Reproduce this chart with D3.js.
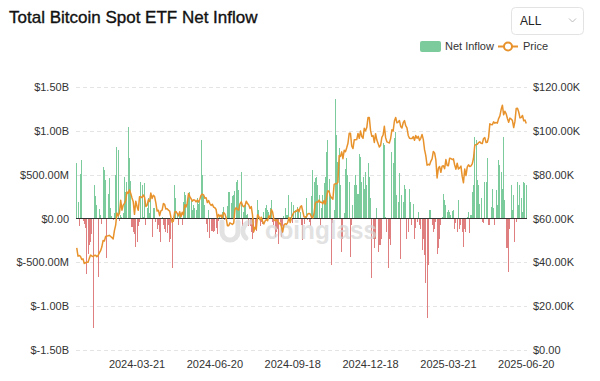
<!DOCTYPE html>
<html>
<head>
<meta charset="utf-8">
<script src="https://cdn.jsdelivr.net/npm/d3@7"></script>
<style>
  html, body { margin: 0; padding: 0; background: #fff; }
  svg { display: block; font-family: "Liberation Sans", Arial, Helvetica, sans-serif; }
</style>
</head>
<body>
<svg id="chart" width="600" height="381"></svg>
<script>
// ---------- DATA ----------
const dates = [
  "2024-01-11","2024-01-12","2024-01-16","2024-01-17","2024-01-18","2024-01-19","2024-01-22","2024-01-23","2024-01-24","2024-01-25","2024-01-26","2024-01-29","2024-01-30","2024-01-31",
  "2024-02-01","2024-02-02","2024-02-05","2024-02-06","2024-02-07","2024-02-08","2024-02-09","2024-02-12","2024-02-13","2024-02-14","2024-02-15","2024-02-16","2024-02-20","2024-02-21","2024-02-22","2024-02-23","2024-02-26","2024-02-27","2024-02-28","2024-02-29",
  "2024-03-01","2024-03-04","2024-03-05","2024-03-06","2024-03-07","2024-03-08","2024-03-11","2024-03-12","2024-03-13","2024-03-14","2024-03-15","2024-03-18","2024-03-19","2024-03-20","2024-03-21","2024-03-22","2024-03-25","2024-03-26","2024-03-27","2024-03-28",
  "2024-04-01","2024-04-02","2024-04-03","2024-04-04","2024-04-05","2024-04-08","2024-04-09","2024-04-10","2024-04-11","2024-04-12","2024-04-15","2024-04-16","2024-04-17","2024-04-18","2024-04-19","2024-04-22","2024-04-23","2024-04-24","2024-04-25","2024-04-26","2024-04-29","2024-04-30",
  "2024-05-01","2024-05-02","2024-05-03","2024-05-06","2024-05-07","2024-05-08","2024-05-09","2024-05-10","2024-05-13","2024-05-14","2024-05-15","2024-05-16","2024-05-17","2024-05-20","2024-05-21","2024-05-22","2024-05-23","2024-05-24","2024-05-28","2024-05-29","2024-05-30","2024-05-31",
  "2024-06-03","2024-06-04","2024-06-05","2024-06-06","2024-06-07","2024-06-10","2024-06-11","2024-06-12","2024-06-13","2024-06-14","2024-06-17","2024-06-18","2024-06-20","2024-06-21","2024-06-24","2024-06-25","2024-06-26","2024-06-27","2024-06-28",
  "2024-07-01","2024-07-02","2024-07-03","2024-07-05","2024-07-08","2024-07-09","2024-07-10","2024-07-11","2024-07-12","2024-07-15","2024-07-16","2024-07-17","2024-07-18","2024-07-19","2024-07-22","2024-07-23","2024-07-24","2024-07-25","2024-07-26","2024-07-29","2024-07-30","2024-07-31",
  "2024-08-01","2024-08-02","2024-08-05","2024-08-06","2024-08-07","2024-08-08","2024-08-09","2024-08-12","2024-08-13","2024-08-14","2024-08-15","2024-08-16","2024-08-19","2024-08-20","2024-08-21","2024-08-22","2024-08-23","2024-08-26","2024-08-27","2024-08-28","2024-08-29","2024-08-30",
  "2024-09-03","2024-09-04","2024-09-05","2024-09-06","2024-09-09","2024-09-10","2024-09-11","2024-09-12","2024-09-13","2024-09-16","2024-09-17","2024-09-18","2024-09-19","2024-09-20","2024-09-23","2024-09-24","2024-09-25","2024-09-26","2024-09-27","2024-09-30",
  "2024-10-01","2024-10-02","2024-10-03","2024-10-04","2024-10-07","2024-10-08","2024-10-09","2024-10-10","2024-10-11","2024-10-15","2024-10-16","2024-10-17","2024-10-18","2024-10-21","2024-10-22","2024-10-23","2024-10-24","2024-10-25","2024-10-28","2024-10-29","2024-10-30","2024-10-31",
  "2024-11-01","2024-11-04","2024-11-05","2024-11-06","2024-11-07","2024-11-08","2024-11-11","2024-11-12","2024-11-13","2024-11-14","2024-11-15","2024-11-18","2024-11-19","2024-11-20","2024-11-21","2024-11-22","2024-11-25","2024-11-26","2024-11-27",
  "2024-12-02","2024-12-03","2024-12-04","2024-12-05","2024-12-06","2024-12-09","2024-12-10","2024-12-11","2024-12-12","2024-12-13","2024-12-16","2024-12-17","2024-12-18","2024-12-19","2024-12-20","2024-12-23","2024-12-24","2024-12-26","2024-12-27","2024-12-30","2024-12-31",
  "2025-01-02","2025-01-03","2025-01-06","2025-01-07","2025-01-08","2025-01-10","2025-01-13","2025-01-14","2025-01-15","2025-01-16","2025-01-17","2025-01-21","2025-01-22","2025-01-23","2025-01-24","2025-01-27","2025-01-28","2025-01-29","2025-01-30","2025-01-31",
  "2025-02-03","2025-02-04","2025-02-05","2025-02-06","2025-02-07","2025-02-10","2025-02-11","2025-02-12","2025-02-13","2025-02-14","2025-02-18","2025-02-19","2025-02-20","2025-02-21","2025-02-24","2025-02-25","2025-02-26","2025-02-27","2025-02-28",
  "2025-03-03","2025-03-04","2025-03-05","2025-03-06","2025-03-07","2025-03-10","2025-03-11","2025-03-12","2025-03-13","2025-03-14","2025-03-17","2025-03-18","2025-03-19","2025-03-20","2025-03-21","2025-03-24","2025-03-25","2025-03-26","2025-03-27","2025-03-28","2025-03-31",
  "2025-04-01","2025-04-02","2025-04-03","2025-04-04","2025-04-07","2025-04-08","2025-04-09","2025-04-10","2025-04-11","2025-04-14","2025-04-15","2025-04-16","2025-04-17","2025-04-21","2025-04-22","2025-04-23","2025-04-24","2025-04-25","2025-04-28","2025-04-29","2025-04-30",
  "2025-05-01","2025-05-02","2025-05-05","2025-05-06","2025-05-07","2025-05-08","2025-05-09","2025-05-12","2025-05-13","2025-05-14","2025-05-15","2025-05-16","2025-05-19","2025-05-20","2025-05-21","2025-05-22","2025-05-23","2025-05-27","2025-05-28","2025-05-29","2025-05-30",
  "2025-06-02","2025-06-03","2025-06-04","2025-06-05","2025-06-06","2025-06-09","2025-06-10","2025-06-11","2025-06-12","2025-06-13","2025-06-16","2025-06-17","2025-06-18","2025-06-20"
];

// Daily net inflow, millions of USD
const netInflowM = [
  630, 190, -80, 510, 670, -30, -60, -110, -630, -400, -300, -270, -180, -1250,
  380, 260, 150, -670, 110, 40, -60, 590, 550, 440, -450, 285, 457, 120, 30, -20, 60, 500, 810, 780,
  -30, 40, 20, 60, 475, 305, 420, 1040, 685, 430, -100, -150, -180, -326, -265, -90, -40, 420, 380, 20,
  400, -75, 115, 230, 60, 265, -210, 115, 115, -40, -115, -75, -150, -265, 20, -75, -115, -150, -170, -75, -265, -230,
  -565, -40, 380, 230, 50, -75, 40, 55, -75, 190, 305, 265, 210, 240, 305, 200, 95, 150, 115, 95, 230, 170,
  200, 895, 495, 265, 150, -65, -150, 100, -226, -145, -146, -152, -140, -106, -175, -31, 21, 12, 73,
  129, -13, -20, 143, 305, 300, 180, 260, 270, 310, 420, 440, 330, 130, 525, -80, 75, 150, 40, 55, -80, -80,
  -150, -237, -168, -100, -148, 210, 95, -80, -40, -60, 75, 115, 150, 95, 75, 115, 210, -40, -75, -210, -150, -115,
  -288, -37, -211, -169, 28, 117, 39, 39, 263, 13, 187, -53, 158, 92, 4, 136, 106, 75, -75, -240,
  -60, 25, 230, -18, -40, -81, 253, 550, 420, 460, 475, 380, 266, -75, 120, 266, 400, 475, 760, 895, 450, 266,
  -533, -57, 100, 1364, 950, 650, 800, 380, -380, -230, 60, 570, 685, 495, 420, -440, -75, 150, 380,
  495, 380, 285, 740, 705, 420, 475, 340, 533, 380, 630, 475, 230, -680, -230, -340, -230, 115, -380, -305, -300,
  -230, 857, 840, 20, -150, -570, -230, -305, 760, 630, 915, 990, 266, 190, 515, -457, 266, 190, 380, 340,
  -230, -150, 340, 190, -75, 170, -230, -110, -40, 75, -75, -115, -360, -230, -420, -740, -1140, -530, 95,
  95, -75, -150, -115, -40, -400, -340, -230, -75, 20, 285, 210, 150, 75, 95, 75, 40, 85, 95, -115, -57,
  -150, 210, -115, -75, -150, -325, -115, -150, 20, 75, -170, 40, 305, 380, 930, 895, 440, 380, 170, 230, -40,
  -57, 420, 420, 685, -75, -75, 130, 340, 115, -75, 325, 150, 667, 610, 530, 340, 930, 210, -340, -340, -610,
  -115, 380, 100, 266, -265, -40, 420, 150, 380, 230, 75, 420, 400, 380
];

// BTC price, thousands of USD
const priceK = [
  46.6, 42.8, 43.1, 42.7, 41.3, 41.6, 39.5, 39.8, 40.1, 40.0, 41.8, 43.3, 42.9, 42.6,
  43.1, 43.2, 42.6, 43.1, 44.3, 45.3, 47.1, 50.0, 49.7, 51.8, 52.0, 52.1, 52.3, 51.8, 51.3, 50.7, 54.5, 57.0, 62.5, 61.2,
  62.4, 68.3, 63.8, 66.1, 66.9, 68.3, 72.1, 71.5, 73.1, 71.4, 69.4, 67.6, 61.9, 67.9, 65.5, 63.8, 69.9, 69.9, 69.5, 70.7,
  69.7, 65.5, 66.0, 68.5, 67.8, 71.6, 69.1, 70.6, 70.0, 67.1, 63.4, 63.8, 61.3, 63.5, 63.8, 66.8, 66.4, 64.3, 64.5, 63.8, 63.4, 60.6,
  58.3, 59.1, 62.9, 63.2, 62.3, 61.2, 63.1, 60.8, 62.9, 61.6, 66.3, 65.2, 67.0, 71.4, 70.1, 69.1, 67.9, 68.5, 68.4, 67.6, 68.4, 67.5,
  68.8, 70.6, 71.1, 70.8, 69.3, 69.5, 67.3, 68.2, 66.8, 66.0, 66.5, 65.2, 64.9, 64.1, 60.3, 61.8, 60.9, 61.6, 60.3,
  62.7, 62.1, 60.2, 56.7, 56.7, 58.0, 57.7, 57.3, 57.9, 64.1, 65.0, 64.1, 63.9, 66.7, 67.6, 65.9, 65.4, 65.8, 67.9, 66.8, 66.2, 64.6,
  65.4, 61.5, 54.0, 56.0, 55.1, 61.7, 60.9, 59.4, 60.6, 58.7, 57.5, 58.9, 59.5, 59.0, 61.2, 60.4, 64.1, 62.9, 59.5, 59.0, 59.4, 59.1,
  57.5, 58.0, 56.2, 53.9, 57.0, 57.6, 57.3, 58.1, 60.5, 58.2, 60.3, 61.8, 62.9, 63.2, 63.3, 64.3, 63.1, 65.2, 65.8, 63.3,
  60.8, 60.6, 60.8, 62.1, 62.3, 62.1, 60.6, 60.3, 62.4, 67.0, 67.6, 67.4, 68.4, 67.4, 67.4, 66.7, 68.2, 66.6, 69.9, 72.7, 72.3, 70.2,
  69.5, 68.8, 75.6, 75.9, 75.9, 76.5, 88.7, 88.3, 90.4, 87.3, 91.1, 90.5, 92.3, 94.3, 98.9, 98.9, 93.1, 91.9, 95.9,
  95.9, 96.0, 98.8, 96.6, 99.9, 97.4, 96.6, 101.2, 100.0, 101.5, 106.1, 106.1, 100.2, 97.5, 97.8, 94.7, 98.7, 95.8, 94.2, 92.6, 93.4,
  97.0, 98.1, 102.1, 96.9, 95.0, 94.7, 94.5, 96.5, 100.5, 99.9, 104.5, 106.1, 103.7, 104.0, 104.7, 102.0, 101.3, 103.7, 104.7, 102.4,
  101.4, 97.9, 96.6, 96.5, 96.5, 97.4, 95.7, 97.9, 96.6, 97.5, 95.6, 96.6, 98.3, 96.1, 91.4, 88.7, 84.3, 84.7, 84.4,
  86.1, 87.2, 90.6, 89.9, 86.7, 78.5, 82.9, 83.7, 81.1, 83.9, 84.1, 82.7, 86.9, 84.2, 84.1, 87.5, 87.4, 86.9, 87.2, 84.4, 82.5,
  85.2, 82.6, 83.1, 83.9, 79.2, 76.3, 82.6, 79.6, 83.4, 84.5, 83.7, 84.0, 84.9, 87.5, 93.4, 93.7, 93.9, 94.6, 95.0, 94.3, 94.2,
  96.5, 96.9, 94.7, 94.8, 97.0, 103.2, 102.9, 102.8, 104.1, 103.5, 103.8, 103.5, 105.6, 106.8, 109.7, 111.7, 107.3, 108.9, 107.8, 105.6, 103.9,
  105.8, 105.4, 104.7, 101.5, 104.3, 110.2, 110.3, 108.6, 105.9, 106.1, 107.0, 104.6, 104.9, 103.3
];

const xTickLabels = ["2024-03-21", "2024-06-20", "2024-09-18", "2024-12-18", "2025-03-21", "2025-06-20"];
const leftTicks = [1.5e9, 1e9, 5e8, 0, -5e8, -1e9, -1.5e9];
const rightTicks = [120000, 100000, 80000, 60000, 40000, 20000, 0];
const seriesNames = ["Net Inflow", "Price"];
const titleText = "Total Bitcoin Spot ETF Net Inflow";
const rangeOption = "ALL";
const watermarkText = "coinglass";

// ---------- LAYOUT ----------
const n = Math.min(dates.length, netInflowM.length, priceK.length);
const rows = d3.range(n).map(i => ({ date: dates[i], flow: netInflowM[i] * 1e6, price: priceK[i] * 1000 }));

const plot = { left: 76, right: 527, top: 87, bottom: 350 };
const green = "#7ccb9c", red = "#df7f7f", orange = "#e8922c";

const svg = d3.select("#chart");

const x = d3.scaleBand().domain(rows.map(d => d.date)).range([plot.left, plot.right]).padding(0.2);
const yL = d3.scaleLinear().domain([-1.5e9, 1.5e9]).range([plot.bottom, plot.top]);
const yR = d3.scaleLinear().domain([0, 120000]).range([plot.bottom, plot.top]);
const cx = d => x(d) + x.bandwidth() / 2;

// Title
svg.append("text").attr("x", 9).attr("y", 23)
  .attr("font-size", 17).attr("fill", "#111").attr("stroke", "#111").attr("stroke-width", 0.35)
  .text(titleText);

// Dropdown
svg.append("rect").attr("x", 511.5).attr("y", 7.5).attr("width", 72).attr("height", 27).attr("rx", 4)
  .attr("fill", "#fff").attr("stroke", "#e3e3e3");
svg.append("text").attr("x", 520).attr("y", 25).attr("font-size", 12).attr("fill", "#222").text(rangeOption);
svg.append("path").attr("d", "M569,18.5 L572.5,22 L576,18.5").attr("fill", "none").attr("stroke", "#bbb").attr("stroke-width", 1);

// Legend
const lg = svg.append("g");
lg.append("rect").attr("x", 420).attr("y", 41).attr("width", 21).attr("height", 11).attr("rx", 2).attr("fill", green);
lg.append("text").attr("x", 445).attr("y", 50).attr("font-size", 11).attr("fill", "#333").text(seriesNames[0]);
lg.append("line").attr("x1", 498).attr("x2", 518).attr("y1", 46.5).attr("y2", 46.5).attr("stroke", orange).attr("stroke-width", 2);
lg.append("circle").attr("cx", 508).attr("cy", 46.5).attr("r", 4).attr("fill", "#fff").attr("stroke", orange).attr("stroke-width", 2);
lg.append("text").attr("x", 523).attr("y", 50).attr("font-size", 11).attr("fill", "#333").text(seriesNames[1]);

// Gridlines
svg.append("g").selectAll("line").data(leftTicks.filter(v => v !== 0)).join("line")
  .attr("x1", plot.left).attr("x2", plot.right)
  .attr("y1", d => Math.round(yL(d)) + 0.5).attr("y2", d => Math.round(yL(d)) + 0.5)
  .attr("stroke", "#e4e4e4").attr("stroke-dasharray", "4,3");

// Left axis
const fmtL = v => {
  if (v === 0) return "$0.00";
  const a = Math.abs(v), s = v < 0 ? "-" : "";
  return a >= 1e9 ? "$" + s + (a / 1e9).toFixed(2) + "B" : "$" + s + (a / 1e6).toFixed(2) + "M";
};
const axL = svg.append("g").attr("transform", `translate(${plot.left - 7},0)`)
  .call(d3.axisLeft(yL).tickValues(leftTicks).tickFormat(fmtL).tickSize(0).tickPadding(0));
axL.select(".domain").remove();
axL.selectAll("text").attr("font-size", 11).attr("fill", "#333").attr("font-family", "Liberation Sans, Arial, sans-serif");

// Right axis
const fmtR = v => v === 0 ? "$0.00" : "$" + (v / 1000).toFixed(2) + "K";
const axR = svg.append("g").attr("transform", `translate(${plot.right + 6},0)`)
  .call(d3.axisRight(yR).tickValues(rightTicks).tickFormat(fmtR).tickSize(0).tickPadding(0));
axR.select(".domain").remove();
axR.selectAll("text").attr("font-size", 11).attr("fill", "#333").attr("font-family", "Liberation Sans, Arial, sans-serif");

// X axis
const axX = svg.append("g").attr("transform", `translate(0,${plot.bottom + 8})`)
  .call(d3.axisBottom(x).tickValues(xTickLabels).tickSize(0).tickPadding(0));
axX.select(".domain").remove();
axX.selectAll("text").attr("font-size", 11).attr("fill", "#333").attr("dy", "0.95em").attr("font-family", "Liberation Sans, Arial, sans-serif");

// Bars
svg.append("g").attr("shape-rendering", "crispEdges").selectAll("rect").data(rows).join("rect")
  .attr("x", d => x(d.date))
  .attr("width", Math.max(1, x.bandwidth()))
  .attr("y", d => Math.min(yL(d.flow), yL(0)))
  .attr("height", d => Math.abs(yL(d.flow) - yL(0)))
  .attr("fill", d => d.flow >= 0 ? green : red);

// Zero line
svg.append("line").attr("x1", plot.left).attr("x2", plot.right)
  .attr("y1", yL(0)).attr("y2", yL(0)).attr("stroke", "#333").attr("stroke-width", 1.2);

// Watermark (over the bars, semi-transparent)
const wm = svg.append("g").attr("opacity", 0.7);
wm.append("path").attr("d", "M222,222 L222,232 A8,8 0 0 0 238,232 L238,222")
  .attr("fill", "none").attr("stroke", "#d6d6d6").attr("stroke-width", 5).attr("stroke-linecap", "round");
wm.append("path").attr("d", "M252,222 A8,9 0 0 0 246,238")
  .attr("fill", "none").attr("stroke", "#d6d6d6").attr("stroke-width", 5).attr("stroke-linecap", "round");
wm.append("text").attr("x", 265).attr("y", 239).attr("font-size", 26).attr("font-weight", "bold")
  .attr("fill", "#d6d6d6").attr("textLength", 112).attr("lengthAdjust", "spacingAndGlyphs")
  .text(watermarkText);

// Price line
svg.append("path").datum(rows)
  .attr("fill", "none").attr("stroke", orange).attr("stroke-width", 1.5).attr("stroke-linejoin", "round")
  .attr("d", d3.line().x(d => cx(d.date)).y(d => yR(d.price)));
</script>
</body>
</html>
